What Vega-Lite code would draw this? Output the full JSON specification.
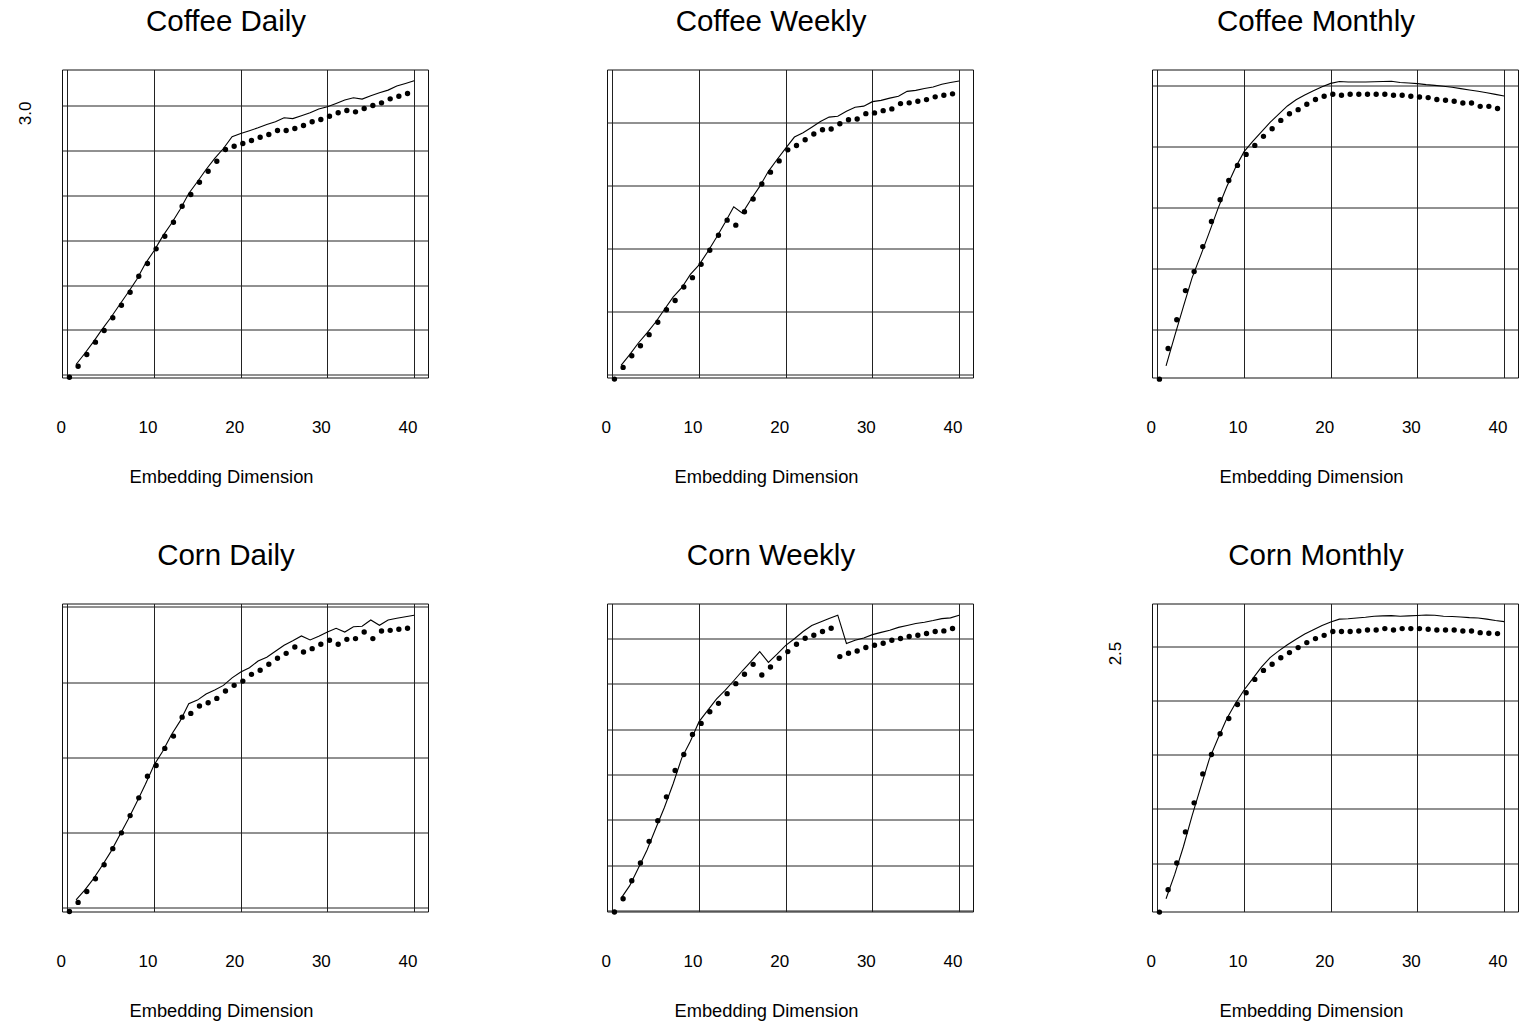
{
"$schema": "https://vega.github.io/schema/vega-lite/v6.json",
"background": "white",
"padding": {"left": 15, "top": 6.5, "right": 0, "bottom": 0},
"bounds": "flush",
"columns": 3,
"spacing": {"row": 226, "column": 179},
"data": {"values": [
{"panel":"CD","series":"dot","x":1,"y":0.051},{"panel":"CD","series":"dot","x":2,"y":0.174},{"panel":"CD","series":"dot","x":3,"y":0.304},{"panel":"CD","series":"dot","x":4,"y":0.442},{"panel":"CD","series":"dot","x":5,"y":0.572},{"panel":"CD","series":"dot","x":6,"y":0.714},{"panel":"CD","series":"dot","x":7,"y":0.854},{"panel":"CD","series":"dot","x":8,"y":0.999},{"panel":"CD","series":"dot","x":9,"y":1.178},{"panel":"CD","series":"dot","x":10,"y":1.319},
{"panel":"CD","series":"dot","x":11,"y":1.483},{"panel":"CD","series":"dot","x":12,"y":1.624},{"panel":"CD","series":"dot","x":13,"y":1.78},{"panel":"CD","series":"dot","x":14,"y":1.958},{"panel":"CD","series":"dot","x":15,"y":2.089},{"panel":"CD","series":"dot","x":16,"y":2.226},{"panel":"CD","series":"dot","x":17,"y":2.349},{"panel":"CD","series":"dot","x":18,"y":2.46},{"panel":"CD","series":"dot","x":19,"y":2.591},{"panel":"CD","series":"dot","x":20,"y":2.627},
{"panel":"CD","series":"dot","x":21,"y":2.658},{"panel":"CD","series":"dot","x":22,"y":2.691},{"panel":"CD","series":"dot","x":23,"y":2.728},{"panel":"CD","series":"dot","x":24,"y":2.758},{"panel":"CD","series":"dot","x":25,"y":2.803},{"panel":"CD","series":"dot","x":26,"y":2.803},{"panel":"CD","series":"dot","x":27,"y":2.825},{"panel":"CD","series":"dot","x":28,"y":2.858},{"panel":"CD","series":"dot","x":29,"y":2.9},{"panel":"CD","series":"dot","x":30,"y":2.925},
{"panel":"CD","series":"dot","x":31,"y":2.962},{"panel":"CD","series":"dot","x":32,"y":3.0},{"panel":"CD","series":"dot","x":33,"y":3.026},{"panel":"CD","series":"dot","x":34,"y":3.011},{"panel":"CD","series":"dot","x":35,"y":3.048},{"panel":"CD","series":"dot","x":36,"y":3.081},{"panel":"CD","series":"dot","x":37,"y":3.111},{"panel":"CD","series":"dot","x":38,"y":3.156},{"panel":"CD","series":"dot","x":39,"y":3.185},{"panel":"CD","series":"dot","x":40,"y":3.215},
{"panel":"CD","series":"line","x":1,"y":0.115},{"panel":"CD","series":"line","x":2,"y":0.238},{"panel":"CD","series":"line","x":3,"y":0.368},{"panel":"CD","series":"line","x":4,"y":0.506},{"panel":"CD","series":"line","x":5,"y":0.636},{"panel":"CD","series":"line","x":6,"y":0.778},{"panel":"CD","series":"line","x":7,"y":0.918},{"panel":"CD","series":"line","x":8,"y":1.063},{"panel":"CD","series":"line","x":9,"y":1.242},{"panel":"CD","series":"line","x":10,"y":1.383},
{"panel":"CD","series":"line","x":11,"y":1.547},{"panel":"CD","series":"line","x":12,"y":1.688},{"panel":"CD","series":"line","x":13,"y":1.844},{"panel":"CD","series":"line","x":14,"y":2.022},{"panel":"CD","series":"line","x":15,"y":2.153},{"panel":"CD","series":"line","x":16,"y":2.29},{"panel":"CD","series":"line","x":17,"y":2.413},{"panel":"CD","series":"line","x":18,"y":2.524},{"panel":"CD","series":"line","x":19,"y":2.655},{"panel":"CD","series":"line","x":20,"y":2.691},
{"panel":"CD","series":"line","x":21,"y":2.722},{"panel":"CD","series":"line","x":22,"y":2.755},{"panel":"CD","series":"line","x":23,"y":2.792},{"panel":"CD","series":"line","x":24,"y":2.822},{"panel":"CD","series":"line","x":25,"y":2.867},{"panel":"CD","series":"line","x":26,"y":2.857},{"panel":"CD","series":"line","x":27,"y":2.889},{"panel":"CD","series":"line","x":28,"y":2.922},{"panel":"CD","series":"line","x":29,"y":2.964},{"panel":"CD","series":"line","x":30,"y":2.989},
{"panel":"CD","series":"line","x":31,"y":3.026},{"panel":"CD","series":"line","x":32,"y":3.064},{"panel":"CD","series":"line","x":33,"y":3.09},{"panel":"CD","series":"line","x":34,"y":3.075},{"panel":"CD","series":"line","x":35,"y":3.112},{"panel":"CD","series":"line","x":36,"y":3.145},{"panel":"CD","series":"line","x":37,"y":3.175},{"panel":"CD","series":"line","x":38,"y":3.22},{"panel":"CD","series":"line","x":39,"y":3.249},{"panel":"CD","series":"line","x":40,"y":3.279},

{"panel":"CW","series":"dot","x":1,"y":0.016},{"panel":"CW","series":"dot","x":2,"y":0.109},{"panel":"CW","series":"dot","x":3,"y":0.202},{"panel":"CW","series":"dot","x":4,"y":0.282},{"panel":"CW","series":"dot","x":5,"y":0.37},{"panel":"CW","series":"dot","x":6,"y":0.469},{"panel":"CW","series":"dot","x":7,"y":0.568},{"panel":"CW","series":"dot","x":8,"y":0.642},{"panel":"CW","series":"dot","x":9,"y":0.749},{"panel":"CW","series":"dot","x":10,"y":0.824},
{"panel":"CW","series":"dot","x":11,"y":0.93},{"panel":"CW","series":"dot","x":12,"y":1.042},{"panel":"CW","series":"dot","x":13,"y":1.162},{"panel":"CW","series":"dot","x":14,"y":1.282},{"panel":"CW","series":"dot","x":15,"y":1.242},{"panel":"CW","series":"dot","x":16,"y":1.349},{"panel":"CW","series":"dot","x":17,"y":1.45},{"panel":"CW","series":"dot","x":18,"y":1.57},{"panel":"CW","series":"dot","x":19,"y":1.664},{"panel":"CW","series":"dot","x":20,"y":1.754},
{"panel":"CW","series":"dot","x":21,"y":1.842},{"panel":"CW","series":"dot","x":22,"y":1.877},{"panel":"CW","series":"dot","x":23,"y":1.922},{"panel":"CW","series":"dot","x":24,"y":1.968},{"panel":"CW","series":"dot","x":25,"y":2.002},{"panel":"CW","series":"dot","x":26,"y":2.008},{"panel":"CW","series":"dot","x":27,"y":2.05},{"panel":"CW","series":"dot","x":28,"y":2.082},{"panel":"CW","series":"dot","x":29,"y":2.088},{"panel":"CW","series":"dot","x":30,"y":2.13},
{"panel":"CW","series":"dot","x":31,"y":2.136},{"panel":"CW","series":"dot","x":32,"y":2.154},{"panel":"CW","series":"dot","x":33,"y":2.168},{"panel":"CW","series":"dot","x":34,"y":2.21},{"panel":"CW","series":"dot","x":35,"y":2.216},{"panel":"CW","series":"dot","x":36,"y":2.229},{"panel":"CW","series":"dot","x":37,"y":2.242},{"panel":"CW","series":"dot","x":38,"y":2.264},{"panel":"CW","series":"dot","x":39,"y":2.277},{"panel":"CW","series":"dot","x":40,"y":2.288},
{"panel":"CW","series":"line","x":1,"y":0.07},{"panel":"CW","series":"line","x":2,"y":0.155},{"panel":"CW","series":"line","x":3,"y":0.248},{"panel":"CW","series":"line","x":4,"y":0.328},{"panel":"CW","series":"line","x":5,"y":0.415},{"panel":"CW","series":"line","x":6,"y":0.515},{"panel":"CW","series":"line","x":7,"y":0.613},{"panel":"CW","series":"line","x":8,"y":0.688},{"panel":"CW","series":"line","x":9,"y":0.794},{"panel":"CW","series":"line","x":10,"y":0.87},
{"panel":"CW","series":"line","x":11,"y":0.975},{"panel":"CW","series":"line","x":12,"y":1.088},{"panel":"CW","series":"line","x":13,"y":1.207},{"panel":"CW","series":"line","x":14,"y":1.333},{"panel":"CW","series":"line","x":15,"y":1.282},{"panel":"CW","series":"line","x":16,"y":1.393},{"panel":"CW","series":"line","x":17,"y":1.495},{"panel":"CW","series":"line","x":18,"y":1.615},{"panel":"CW","series":"line","x":19,"y":1.709},{"panel":"CW","series":"line","x":20,"y":1.8},
{"panel":"CW","series":"line","x":21,"y":1.888},{"panel":"CW","series":"line","x":22,"y":1.922},{"panel":"CW","series":"line","x":23,"y":1.966},{"panel":"CW","series":"line","x":24,"y":2.012},{"panel":"CW","series":"line","x":25,"y":2.047},{"panel":"CW","series":"line","x":26,"y":2.054},{"panel":"CW","series":"line","x":27,"y":2.094},{"panel":"CW","series":"line","x":28,"y":2.126},{"panel":"CW","series":"line","x":29,"y":2.134},{"panel":"CW","series":"line","x":30,"y":2.17},
{"panel":"CW","series":"line","x":31,"y":2.18},{"panel":"CW","series":"line","x":32,"y":2.198},{"panel":"CW","series":"line","x":33,"y":2.213},{"panel":"CW","series":"line","x":34,"y":2.252},{"panel":"CW","series":"line","x":35,"y":2.26},{"panel":"CW","series":"line","x":36,"y":2.274},{"panel":"CW","series":"line","x":37,"y":2.287},{"panel":"CW","series":"line","x":38,"y":2.308},{"panel":"CW","series":"line","x":39,"y":2.322},{"panel":"CW","series":"line","x":40,"y":2.335},

{"panel":"CM","series":"dot","x":1,"y":0.152},{"panel":"CM","series":"dot","x":2,"y":0.403},{"panel":"CM","series":"dot","x":3,"y":0.639},{"panel":"CM","series":"dot","x":4,"y":0.878},{"panel":"CM","series":"dot","x":5,"y":1.034},{"panel":"CM","series":"dot","x":6,"y":1.239},{"panel":"CM","series":"dot","x":7,"y":1.445},{"panel":"CM","series":"dot","x":8,"y":1.623},{"panel":"CM","series":"dot","x":9,"y":1.781},{"panel":"CM","series":"dot","x":10,"y":1.905},
{"panel":"CM","series":"dot","x":11,"y":1.995},{"panel":"CM","series":"dot","x":12,"y":2.069},{"panel":"CM","series":"dot","x":13,"y":2.143},{"panel":"CM","series":"dot","x":14,"y":2.206},{"panel":"CM","series":"dot","x":15,"y":2.274},{"panel":"CM","series":"dot","x":16,"y":2.329},{"panel":"CM","series":"dot","x":17,"y":2.362},{"panel":"CM","series":"dot","x":18,"y":2.406},{"panel":"CM","series":"dot","x":19,"y":2.445},{"panel":"CM","series":"dot","x":20,"y":2.472},
{"panel":"CM","series":"dot","x":21,"y":2.488},{"panel":"CM","series":"dot","x":22,"y":2.48},{"panel":"CM","series":"dot","x":23,"y":2.488},{"panel":"CM","series":"dot","x":24,"y":2.488},{"panel":"CM","series":"dot","x":25,"y":2.488},{"panel":"CM","series":"dot","x":26,"y":2.488},{"panel":"CM","series":"dot","x":27,"y":2.488},{"panel":"CM","series":"dot","x":28,"y":2.48},{"panel":"CM","series":"dot","x":29,"y":2.48},{"panel":"CM","series":"dot","x":30,"y":2.472},
{"panel":"CM","series":"dot","x":31,"y":2.466},{"panel":"CM","series":"dot","x":32,"y":2.461},{"panel":"CM","series":"dot","x":33,"y":2.445},{"panel":"CM","series":"dot","x":34,"y":2.439},{"panel":"CM","series":"dot","x":35,"y":2.431},{"panel":"CM","series":"dot","x":36,"y":2.417},{"panel":"CM","series":"dot","x":37,"y":2.417},{"panel":"CM","series":"dot","x":38,"y":2.389},{"panel":"CM","series":"dot","x":39,"y":2.389},{"panel":"CM","series":"dot","x":40,"y":2.371},
{"panel":"CM","series":"line","x":1,"y":0.204},{"panel":"CM","series":"line","x":2,"y":0.45},{"panel":"CM","series":"line","x":3,"y":0.69},{"panel":"CM","series":"line","x":4,"y":0.925},{"panel":"CM","series":"line","x":5,"y":1.11},{"panel":"CM","series":"line","x":6,"y":1.3},{"panel":"CM","series":"line","x":7,"y":1.495},{"panel":"CM","series":"line","x":8,"y":1.672},{"panel":"CM","series":"line","x":9,"y":1.828},{"panel":"CM","series":"line","x":10,"y":1.96},
{"panel":"CM","series":"line","x":11,"y":2.045},{"panel":"CM","series":"line","x":12,"y":2.122},{"panel":"CM","series":"line","x":13,"y":2.2},{"panel":"CM","series":"line","x":14,"y":2.268},{"panel":"CM","series":"line","x":15,"y":2.335},{"panel":"CM","series":"line","x":16,"y":2.386},{"panel":"CM","series":"line","x":17,"y":2.425},{"panel":"CM","series":"line","x":18,"y":2.46},{"panel":"CM","series":"line","x":19,"y":2.493},{"panel":"CM","series":"line","x":20,"y":2.52},
{"panel":"CM","series":"line","x":21,"y":2.535},{"panel":"CM","series":"line","x":22,"y":2.531},{"panel":"CM","series":"line","x":23,"y":2.531},{"panel":"CM","series":"line","x":24,"y":2.532},{"panel":"CM","series":"line","x":25,"y":2.533},{"panel":"CM","series":"line","x":26,"y":2.535},{"panel":"CM","series":"line","x":27,"y":2.538},{"panel":"CM","series":"line","x":28,"y":2.527},{"panel":"CM","series":"line","x":29,"y":2.523},{"panel":"CM","series":"line","x":30,"y":2.518},
{"panel":"CM","series":"line","x":31,"y":2.51},{"panel":"CM","series":"line","x":32,"y":2.504},{"panel":"CM","series":"line","x":33,"y":2.497},{"panel":"CM","series":"line","x":34,"y":2.488},{"panel":"CM","series":"line","x":35,"y":2.477},{"panel":"CM","series":"line","x":36,"y":2.466},{"panel":"CM","series":"line","x":37,"y":2.455},{"panel":"CM","series":"line","x":38,"y":2.443},{"panel":"CM","series":"line","x":39,"y":2.43},{"panel":"CM","series":"line","x":40,"y":2.417},

{"panel":"KD","series":"dot","x":1,"y":0.02},{"panel":"KD","series":"dot","x":2,"y":0.08},{"panel":"KD","series":"dot","x":3,"y":0.153},{"panel":"KD","series":"dot","x":4,"y":0.238},{"panel":"KD","series":"dot","x":5,"y":0.331},{"panel":"KD","series":"dot","x":6,"y":0.438},{"panel":"KD","series":"dot","x":7,"y":0.543},{"panel":"KD","series":"dot","x":8,"y":0.658},{"panel":"KD","series":"dot","x":9,"y":0.776},{"panel":"KD","series":"dot","x":10,"y":0.92},
{"panel":"KD","series":"dot","x":11,"y":0.991},{"panel":"KD","series":"dot","x":12,"y":1.105},{"panel":"KD","series":"dot","x":13,"y":1.187},{"panel":"KD","series":"dot","x":14,"y":1.313},{"panel":"KD","series":"dot","x":15,"y":1.338},{"panel":"KD","series":"dot","x":16,"y":1.387},{"panel":"KD","series":"dot","x":17,"y":1.409},{"panel":"KD","series":"dot","x":18,"y":1.438},{"panel":"KD","series":"dot","x":19,"y":1.487},{"panel":"KD","series":"dot","x":20,"y":1.525},
{"panel":"KD","series":"dot","x":21,"y":1.553},{"panel":"KD","series":"dot","x":22,"y":1.598},{"panel":"KD","series":"dot","x":23,"y":1.625},{"panel":"KD","series":"dot","x":24,"y":1.665},{"panel":"KD","series":"dot","x":25,"y":1.705},{"panel":"KD","series":"dot","x":26,"y":1.738},{"panel":"KD","series":"dot","x":27,"y":1.78},{"panel":"KD","series":"dot","x":28,"y":1.747},{"panel":"KD","series":"dot","x":29,"y":1.769},{"panel":"KD","series":"dot","x":30,"y":1.798},
{"panel":"KD","series":"dot","x":31,"y":1.825},{"panel":"KD","series":"dot","x":32,"y":1.798},{"panel":"KD","series":"dot","x":33,"y":1.831},{"panel":"KD","series":"dot","x":34,"y":1.836},{"panel":"KD","series":"dot","x":35,"y":1.88},{"panel":"KD","series":"dot","x":36,"y":1.836},{"panel":"KD","series":"dot","x":37,"y":1.887},{"panel":"KD","series":"dot","x":38,"y":1.891},{"panel":"KD","series":"dot","x":39,"y":1.898},{"panel":"KD","series":"dot","x":40,"y":1.905},
{"panel":"KD","series":"line","x":1,"y":0.051},{"panel":"KD","series":"line","x":2,"y":0.115},{"panel":"KD","series":"line","x":3,"y":0.19},{"panel":"KD","series":"line","x":4,"y":0.277},{"panel":"KD","series":"line","x":5,"y":0.37},{"panel":"KD","series":"line","x":6,"y":0.477},{"panel":"KD","series":"line","x":7,"y":0.585},{"panel":"KD","series":"line","x":8,"y":0.7},{"panel":"KD","series":"line","x":9,"y":0.82},{"panel":"KD","series":"line","x":10,"y":0.948},
{"panel":"KD","series":"line","x":11,"y":1.04},{"panel":"KD","series":"line","x":12,"y":1.15},{"panel":"KD","series":"line","x":13,"y":1.24},{"panel":"KD","series":"line","x":14,"y":1.356},{"panel":"KD","series":"line","x":15,"y":1.38},{"panel":"KD","series":"line","x":16,"y":1.42},{"panel":"KD","series":"line","x":17,"y":1.448},{"panel":"KD","series":"line","x":18,"y":1.478},{"panel":"KD","series":"line","x":19,"y":1.528},{"panel":"KD","series":"line","x":20,"y":1.567},
{"panel":"KD","series":"line","x":21,"y":1.595},{"panel":"KD","series":"line","x":22,"y":1.64},{"panel":"KD","series":"line","x":23,"y":1.665},{"panel":"KD","series":"line","x":24,"y":1.705},{"panel":"KD","series":"line","x":25,"y":1.745},{"panel":"KD","series":"line","x":26,"y":1.775},{"panel":"KD","series":"line","x":27,"y":1.807},{"panel":"KD","series":"line","x":28,"y":1.78},{"panel":"KD","series":"line","x":29,"y":1.805},{"panel":"KD","series":"line","x":30,"y":1.833},
{"panel":"KD","series":"line","x":31,"y":1.858},{"panel":"KD","series":"line","x":32,"y":1.833},{"panel":"KD","series":"line","x":33,"y":1.868},{"panel":"KD","series":"line","x":34,"y":1.872},{"panel":"KD","series":"line","x":35,"y":1.913},{"panel":"KD","series":"line","x":36,"y":1.878},{"panel":"KD","series":"line","x":37,"y":1.913},{"panel":"KD","series":"line","x":38,"y":1.925},{"panel":"KD","series":"line","x":39,"y":1.935},{"panel":"KD","series":"line","x":40,"y":1.945},

{"panel":"KW","series":"dot","x":1,"y":0.061},{"panel":"KW","series":"dot","x":2,"y":0.208},{"panel":"KW","series":"dot","x":3,"y":0.406},{"panel":"KW","series":"dot","x":4,"y":0.602},{"panel":"KW","series":"dot","x":5,"y":0.84},{"panel":"KW","series":"dot","x":6,"y":1.068},{"panel":"KW","series":"dot","x":7,"y":1.33},{"panel":"KW","series":"dot","x":8,"y":1.62},{"panel":"KW","series":"dot","x":9,"y":1.797},{"panel":"KW","series":"dot","x":10,"y":2.018},
{"panel":"KW","series":"dot","x":11,"y":2.139},{"panel":"KW","series":"dot","x":12,"y":2.268},{"panel":"KW","series":"dot","x":13,"y":2.36},{"panel":"KW","series":"dot","x":14,"y":2.467},{"panel":"KW","series":"dot","x":15,"y":2.577},{"panel":"KW","series":"dot","x":16,"y":2.68},{"panel":"KW","series":"dot","x":17,"y":2.79},{"panel":"KW","series":"dot","x":18,"y":2.672},{"panel":"KW","series":"dot","x":19,"y":2.76},{"panel":"KW","series":"dot","x":20,"y":2.857},
{"panel":"KW","series":"dot","x":21,"y":2.93},{"panel":"KW","series":"dot","x":22,"y":3.011},{"panel":"KW","series":"dot","x":23,"y":3.077},{"panel":"KW","series":"dot","x":24,"y":3.11},{"panel":"KW","series":"dot","x":25,"y":3.151},{"panel":"KW","series":"dot","x":26,"y":3.188},{"panel":"KW","series":"dot","x":27,"y":2.875},{"panel":"KW","series":"dot","x":28,"y":2.912},{"panel":"KW","series":"dot","x":29,"y":2.937},{"panel":"KW","series":"dot","x":30,"y":2.975},
{"panel":"KW","series":"dot","x":31,"y":3.0},{"panel":"KW","series":"dot","x":32,"y":3.022},{"panel":"KW","series":"dot","x":33,"y":3.055},{"panel":"KW","series":"dot","x":34,"y":3.074},{"panel":"KW","series":"dot","x":35,"y":3.096},{"panel":"KW","series":"dot","x":36,"y":3.11},{"panel":"KW","series":"dot","x":37,"y":3.129},{"panel":"KW","series":"dot","x":38,"y":3.151},{"panel":"KW","series":"dot","x":39,"y":3.158},{"panel":"KW","series":"dot","x":40,"y":3.184},
{"panel":"KW","series":"line","x":1,"y":0.135},{"panel":"KW","series":"line","x":2,"y":0.275},{"panel":"KW","series":"line","x":3,"y":0.47},{"panel":"KW","series":"line","x":4,"y":0.668},{"panel":"KW","series":"line","x":5,"y":0.905},{"panel":"KW","series":"line","x":6,"y":1.135},{"panel":"KW","series":"line","x":7,"y":1.395},{"panel":"KW","series":"line","x":8,"y":1.68},{"panel":"KW","series":"line","x":9,"y":1.865},{"panel":"KW","series":"line","x":10,"y":2.082},
{"panel":"KW","series":"line","x":11,"y":2.205},{"panel":"KW","series":"line","x":12,"y":2.33},{"panel":"KW","series":"line","x":13,"y":2.425},{"panel":"KW","series":"line","x":14,"y":2.532},{"panel":"KW","series":"line","x":15,"y":2.642},{"panel":"KW","series":"line","x":16,"y":2.745},{"panel":"KW","series":"line","x":17,"y":2.852},{"panel":"KW","series":"line","x":18,"y":2.735},{"panel":"KW","series":"line","x":19,"y":2.825},{"panel":"KW","series":"line","x":20,"y":2.922},
{"panel":"KW","series":"line","x":21,"y":2.995},{"panel":"KW","series":"line","x":22,"y":3.075},{"panel":"KW","series":"line","x":23,"y":3.14},{"panel":"KW","series":"line","x":24,"y":3.178},{"panel":"KW","series":"line","x":25,"y":3.218},{"panel":"KW","series":"line","x":26,"y":3.254},{"panel":"KW","series":"line","x":27,"y":2.942},{"panel":"KW","series":"line","x":28,"y":2.978},{"panel":"KW","series":"line","x":29,"y":3.002},{"panel":"KW","series":"line","x":30,"y":3.04},
{"panel":"KW","series":"line","x":31,"y":3.065},{"panel":"KW","series":"line","x":32,"y":3.088},{"panel":"KW","series":"line","x":33,"y":3.12},{"panel":"KW","series":"line","x":34,"y":3.14},{"panel":"KW","series":"line","x":35,"y":3.162},{"panel":"KW","series":"line","x":36,"y":3.177},{"panel":"KW","series":"line","x":37,"y":3.195},{"panel":"KW","series":"line","x":38,"y":3.216},{"panel":"KW","series":"line","x":39,"y":3.225},{"panel":"KW","series":"line","x":40,"y":3.254},

{"panel":"KM","series":"dot","x":1,"y":0.112},{"panel":"KM","series":"dot","x":2,"y":0.318},{"panel":"KM","series":"dot","x":3,"y":0.565},{"panel":"KM","series":"dot","x":4,"y":0.851},{"panel":"KM","series":"dot","x":5,"y":1.119},{"panel":"KM","series":"dot","x":6,"y":1.386},{"panel":"KM","series":"dot","x":7,"y":1.565},{"panel":"KM","series":"dot","x":8,"y":1.756},{"panel":"KM","series":"dot","x":9,"y":1.897},{"panel":"KM","series":"dot","x":10,"y":2.026},
{"panel":"KM","series":"dot","x":11,"y":2.134},{"panel":"KM","series":"dot","x":12,"y":2.257},{"panel":"KM","series":"dot","x":13,"y":2.34},{"panel":"KM","series":"dot","x":14,"y":2.396},{"panel":"KM","series":"dot","x":15,"y":2.457},{"panel":"KM","series":"dot","x":16,"y":2.504},{"panel":"KM","series":"dot","x":17,"y":2.55},{"panel":"KM","series":"dot","x":18,"y":2.596},{"panel":"KM","series":"dot","x":19,"y":2.633},{"panel":"KM","series":"dot","x":20,"y":2.663},
{"panel":"KM","series":"dot","x":21,"y":2.698},{"panel":"KM","series":"dot","x":22,"y":2.698},{"panel":"KM","series":"dot","x":23,"y":2.698},{"panel":"KM","series":"dot","x":24,"y":2.703},{"panel":"KM","series":"dot","x":25,"y":2.712},{"panel":"KM","series":"dot","x":26,"y":2.712},{"panel":"KM","series":"dot","x":27,"y":2.725},{"panel":"KM","series":"dot","x":28,"y":2.712},{"panel":"KM","series":"dot","x":29,"y":2.725},{"panel":"KM","series":"dot","x":30,"y":2.725},
{"panel":"KM","series":"dot","x":31,"y":2.725},{"panel":"KM","series":"dot","x":32,"y":2.719},{"panel":"KM","series":"dot","x":33,"y":2.712},{"panel":"KM","series":"dot","x":34,"y":2.712},{"panel":"KM","series":"dot","x":35,"y":2.712},{"panel":"KM","series":"dot","x":36,"y":2.703},{"panel":"KM","series":"dot","x":37,"y":2.703},{"panel":"KM","series":"dot","x":38,"y":2.688},{"panel":"KM","series":"dot","x":39,"y":2.682},{"panel":"KM","series":"dot","x":40,"y":2.679},
{"panel":"KM","series":"line","x":1,"y":0.17},{"panel":"KM","series":"line","x":2,"y":0.395},{"panel":"KM","series":"line","x":3,"y":0.65},{"panel":"KM","series":"line","x":4,"y":0.935},{"panel":"KM","series":"line","x":5,"y":1.2},{"panel":"KM","series":"line","x":6,"y":1.46},{"panel":"KM","series":"line","x":7,"y":1.65},{"panel":"KM","series":"line","x":8,"y":1.83},{"panel":"KM","series":"line","x":9,"y":1.97},{"panel":"KM","series":"line","x":10,"y":2.095},
{"panel":"KM","series":"line","x":11,"y":2.2},{"panel":"KM","series":"line","x":12,"y":2.305},{"panel":"KM","series":"line","x":13,"y":2.393},{"panel":"KM","series":"line","x":14,"y":2.455},{"panel":"KM","series":"line","x":15,"y":2.512},{"panel":"KM","series":"line","x":16,"y":2.562},{"panel":"KM","series":"line","x":17,"y":2.61},{"panel":"KM","series":"line","x":18,"y":2.65},{"panel":"KM","series":"line","x":19,"y":2.69},{"panel":"KM","series":"line","x":20,"y":2.722},
{"panel":"KM","series":"line","x":21,"y":2.748},{"panel":"KM","series":"line","x":22,"y":2.752},{"panel":"KM","series":"line","x":23,"y":2.758},{"panel":"KM","series":"line","x":24,"y":2.765},{"panel":"KM","series":"line","x":25,"y":2.775},{"panel":"KM","series":"line","x":26,"y":2.778},{"panel":"KM","series":"line","x":27,"y":2.78},{"panel":"KM","series":"line","x":28,"y":2.775},{"panel":"KM","series":"line","x":29,"y":2.778},{"panel":"KM","series":"line","x":30,"y":2.782},
{"panel":"KM","series":"line","x":31,"y":2.786},{"panel":"KM","series":"line","x":32,"y":2.784},{"panel":"KM","series":"line","x":33,"y":2.775},{"panel":"KM","series":"line","x":34,"y":2.772},{"panel":"KM","series":"line","x":35,"y":2.768},{"panel":"KM","series":"line","x":36,"y":2.762},{"panel":"KM","series":"line","x":37,"y":2.758},{"panel":"KM","series":"line","x":38,"y":2.748},{"panel":"KM","series":"line","x":39,"y":2.735},{"panel":"KM","series":"line","x":40,"y":2.725}
]},
"config": {
  "view": {"stroke": "#111111", "strokeWidth": 1},
  "font": "Liberation Sans",
  "axis": {"domain": false, "ticks": false, "tickSize": 0, "grid": true, "gridColor": "#222222", "gridOpacity": 1, "gridWidth": 1, "labelColor": "black", "labelFont": "Liberation Sans", "labelFontSize": 17, "titleColor": "black", "titleFont": "Liberation Sans", "titleFontSize": 18.3, "titleFontWeight": "normal"},
  "axisX": {"labelOffset": -6.6, "labelPadding": 55, "labelBaseline": "alphabetic", "labelFlush": false, "labelAngle": 0, "labelAlign": "center", "titleX": 159, "titleY": 105, "titleBaseline": "alphabetic", "titleAlign": "center"},
  "axisY": {"labelAngle": 270, "labelAlign": "center", "labelBaseline": "alphabetic", "labelPadding": 32, "labelOffset": 7},
  "title": {"font": "Liberation Sans", "fontSize": 29.5, "fontWeight": "normal", "color": "black", "dx": -19, "offset": 32}
},
"concat": [
  {"width": 366, "height": 308, "title": "Coffee Daily",
   "transform": [{"filter": "datum.panel == 'CD'"}],
   "encoding": {
     "x": {"field": "x", "type": "quantitative", "scale": {"domain": [-0.62, 41.6], "nice": false, "zero": false}, "axis": {"values": [0,10,20,30,40], "title": "Embedding Dimension"}},
     "y": {"field": "y", "type": "quantitative", "scale": {"domain": [-0.03, 3.405], "nice": false, "zero": false}, "axis": {"values": [0,0.5,1,1.5,2,2.5,3], "labelExpr": "datum.value == 3 ? '3.0' : ''", "title": null}}
   },
   "layer": [
     {"transform": [{"filter": "datum.series == 'line'"}], "mark": {"type": "line", "color": "black", "strokeWidth": 1.1}},
     {"transform": [{"filter": "datum.series == 'dot'"}], "mark": {"type": "circle", "color": "black", "opacity": 1, "size": 29, "xOffset": -6.6, "yOffset": 7}}
   ]},
  {"width": 366, "height": 308, "title": "Coffee Weekly",
   "transform": [{"filter": "datum.panel == 'CW'"}],
   "encoding": {
     "x": {"field": "x", "type": "quantitative", "scale": {"domain": [-0.62, 41.6], "nice": false, "zero": false}, "axis": {"values": [0,10,20,30,40], "title": "Embedding Dimension"}},
     "y": {"field": "y", "type": "quantitative", "scale": {"domain": [-0.027, 2.426], "nice": false, "zero": false}, "axis": {"values": [0,0.5,1,1.5,2], "labels": false, "title": null}}
   },
   "layer": [
     {"transform": [{"filter": "datum.series == 'line'"}], "mark": {"type": "line", "color": "black", "strokeWidth": 1.1}},
     {"transform": [{"filter": "datum.series == 'dot'"}], "mark": {"type": "circle", "color": "black", "opacity": 1, "size": 29, "xOffset": -6.6, "yOffset": 7}}
   ]},
  {"width": 366, "height": 308, "title": "Coffee Monthly",
   "transform": [{"filter": "datum.panel == 'CM'"}],
   "encoding": {
     "x": {"field": "x", "type": "quantitative", "scale": {"domain": [-0.62, 41.6], "nice": false, "zero": false}, "axis": {"values": [0,10,20,30,40], "title": "Embedding Dimension"}},
     "y": {"field": "y", "type": "quantitative", "scale": {"domain": [0.108, 2.634], "nice": false, "zero": false}, "axis": {"values": [0.5,1,1.5,2,2.5], "labels": false, "title": null}}
   },
   "layer": [
     {"transform": [{"filter": "datum.series == 'line'"}], "mark": {"type": "line", "color": "black", "strokeWidth": 1.1}},
     {"transform": [{"filter": "datum.series == 'dot'"}], "mark": {"type": "circle", "color": "black", "opacity": 1, "size": 29, "xOffset": -6.6, "yOffset": 7}}
   ]},
  {"width": 366, "height": 308, "title": "Corn Daily",
   "transform": [{"filter": "datum.panel == 'KD'"}],
   "encoding": {
     "x": {"field": "x", "type": "quantitative", "scale": {"domain": [-0.62, 41.6], "nice": false, "zero": false}, "axis": {"values": [0,10,20,30,40], "title": "Embedding Dimension"}},
     "y": {"field": "y", "type": "quantitative", "scale": {"domain": [-0.027, 2.023], "nice": false, "zero": false}, "axis": {"values": [0,0.5,1,1.5,2], "labels": false, "title": null}}
   },
   "layer": [
     {"transform": [{"filter": "datum.series == 'line'"}], "mark": {"type": "line", "color": "black", "strokeWidth": 1.1}},
     {"transform": [{"filter": "datum.series == 'dot'"}], "mark": {"type": "circle", "color": "black", "opacity": 1, "size": 29, "xOffset": -6.6, "yOffset": 7}}
   ]},
  {"width": 366, "height": 308, "title": "Corn Weekly",
   "transform": [{"filter": "datum.panel == 'KW'"}],
   "encoding": {
     "x": {"field": "x", "type": "quantitative", "scale": {"domain": [-0.62, 41.6], "nice": false, "zero": false}, "axis": {"values": [0,10,20,30,40], "title": "Embedding Dimension"}},
     "y": {"field": "y", "type": "quantitative", "scale": {"domain": [-0.01, 3.383], "nice": false, "zero": false}, "axis": {"values": [0,0.5,1,1.5,2,2.5,3], "labels": false, "title": null}}
   },
   "layer": [
     {"transform": [{"filter": "datum.series == 'line'"}], "mark": {"type": "line", "color": "black", "strokeWidth": 1.1}},
     {"transform": [{"filter": "datum.series == 'dot'"}], "mark": {"type": "circle", "color": "black", "opacity": 1, "size": 29, "xOffset": -6.6, "yOffset": 7}}
   ]},
  {"width": 366, "height": 308, "title": "Corn Monthly",
   "transform": [{"filter": "datum.panel == 'KM'"}],
   "encoding": {
     "x": {"field": "x", "type": "quantitative", "scale": {"domain": [-0.62, 41.6], "nice": false, "zero": false}, "axis": {"values": [0,10,20,30,40], "title": "Embedding Dimension"}},
     "y": {"field": "y", "type": "quantitative", "scale": {"domain": [0.053, 2.892], "nice": false, "zero": false}, "axis": {"values": [0.5,1,1.5,2,2.5], "labelExpr": "datum.value == 2.5 ? '2.5' : ''", "title": null}}
   },
   "layer": [
     {"transform": [{"filter": "datum.series == 'line'"}], "mark": {"type": "line", "color": "black", "strokeWidth": 1.1}},
     {"transform": [{"filter": "datum.series == 'dot'"}], "mark": {"type": "circle", "color": "black", "opacity": 1, "size": 29, "xOffset": -6.6, "yOffset": 7}}
   ]}
]
}
